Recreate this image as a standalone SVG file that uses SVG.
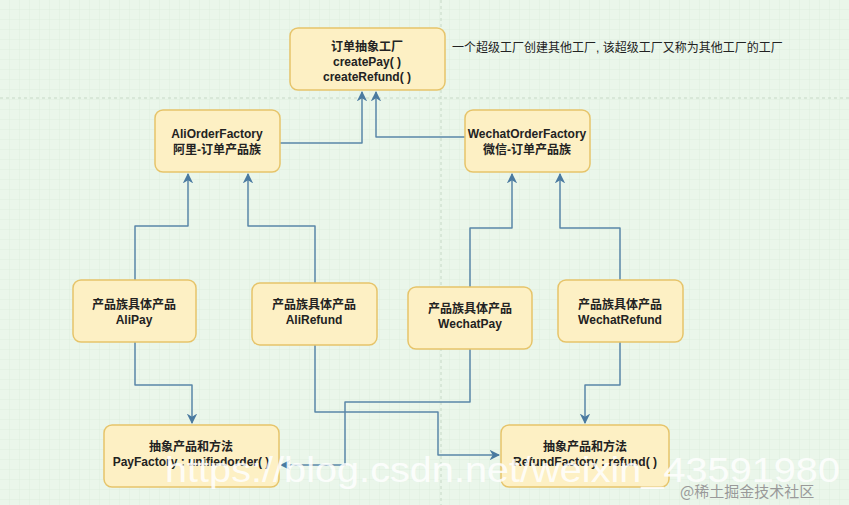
<svg xmlns="http://www.w3.org/2000/svg" width="849" height="505" viewBox="0 0 849 505">
<defs>
<pattern id="g" width="10" height="10" patternUnits="userSpaceOnUse"><path d="M10 0V10H0" fill="none" stroke="#d5e8d5" stroke-width="0.6"/></pattern>
<marker id="a" viewBox="0 0 10 10" refX="9" refY="5" markerWidth="7" markerHeight="7" orient="auto"><path d="M0 0L10 5L0 10L3 5Z" fill="#4a7aa0"/></marker>
</defs>
<style>
.n rect{fill:#fdf0c4;stroke:#e6c46a;stroke-width:1.5}
.n text{font-family:"Liberation Sans","Noto Sans CJK SC",sans-serif;font-size:12px;font-weight:bold;fill:#222;text-anchor:middle}
#c path{fill:none;stroke:#5a86a8;stroke-width:1.5;marker-end:url(#a);stroke-linejoin:round}
</style>
<rect width="849" height="505" fill="#eaf6ea"/>
<rect width="849" height="505" fill="url(#g)"/>
<path d="M0 98H849M441 0V505" stroke="#c6d8c6" stroke-dasharray="3 3"/>
<g id="c">
<path d="M280 143H362V92"/>
<path d="M465 137H376V92"/>
<path d="M135 280V226H188V174"/>
<path d="M315 283V226H248V174"/>
<path d="M470 287V228H512V174"/>
<path d="M620 280V228H560V174"/>
<path d="M135 342V385H192V423"/>
<path d="M315 345V412H438V455H499"/>
<path d="M470 349V402H345V465H281"/>
<path d="M620 342V385H585V423"/>
</g>
<g id="top" class="n"><rect x="290" y="28" width="155" height="62" rx="8"/><text x="367" y="51">订单抽象工厂</text><text x="367" y="66">createPay( )</text><text x="367" y="81">createRefund( )</text></g>
<g id="ali" class="n"><rect x="155" y="110" width="125" height="62" rx="8"/><text x="217" y="138">AliOrderFactory</text><text x="217" y="154">阿里-订单产品族</text></g>
<g id="wx" class="n"><rect x="465" y="110" width="125" height="62" rx="8"/><text x="527" y="138">WechatOrderFactory</text><text x="527" y="154">微信-订单产品族</text></g>
<g id="alipay" class="n"><rect x="73" y="280" width="123" height="62" rx="8"/><text x="134" y="309">产品族具体产品</text><text x="134" y="324">AliPay</text></g>
<g id="alirefund" class="n"><rect x="252" y="283" width="125" height="62" rx="8"/><text x="314" y="309">产品族具体产品</text><text x="314" y="324">AliRefund</text></g>
<g id="wxpay" class="n"><rect x="408" y="287" width="124" height="62" rx="8"/><text x="470" y="313">产品族具体产品</text><text x="470" y="328">WechatPay</text></g>
<g id="wxrefund" class="n"><rect x="558" y="280" width="125" height="62" rx="8"/><text x="620" y="309">产品族具体产品</text><text x="620" y="324">WechatRefund</text></g>
<g id="payf" class="n"><rect x="104" y="425" width="175" height="62" rx="8"/><text x="191" y="451">抽象产品和方法</text><text x="191" y="466">PayFactory : unifiedorder( )</text></g>
<g id="reff" class="n"><rect x="501" y="425" width="168" height="62" rx="8"/><text x="585" y="451">抽象产品和方法</text><text x="585" y="466">RefundFactory : refund( )</text></g>
<text x="452" y="52" font-family="Liberation Sans,Noto Sans CJK SC,sans-serif" font-size="12" fill="#222">一个超级工厂创建其他工厂, 该超级工厂又称为其他工厂的工厂</text>
<text x="165" y="482" font-family="Liberation Sans,sans-serif" font-size="35" fill="#fff" fill-opacity="0.85" textLength="675" lengthAdjust="spacingAndGlyphs">https://blog.csdn.net/weixin_43591980</text>
<text x="680" y="497" font-family="Noto Sans CJK SC,sans-serif" font-size="15" fill="#999">@稀土掘金技术社区</text>
</svg>
